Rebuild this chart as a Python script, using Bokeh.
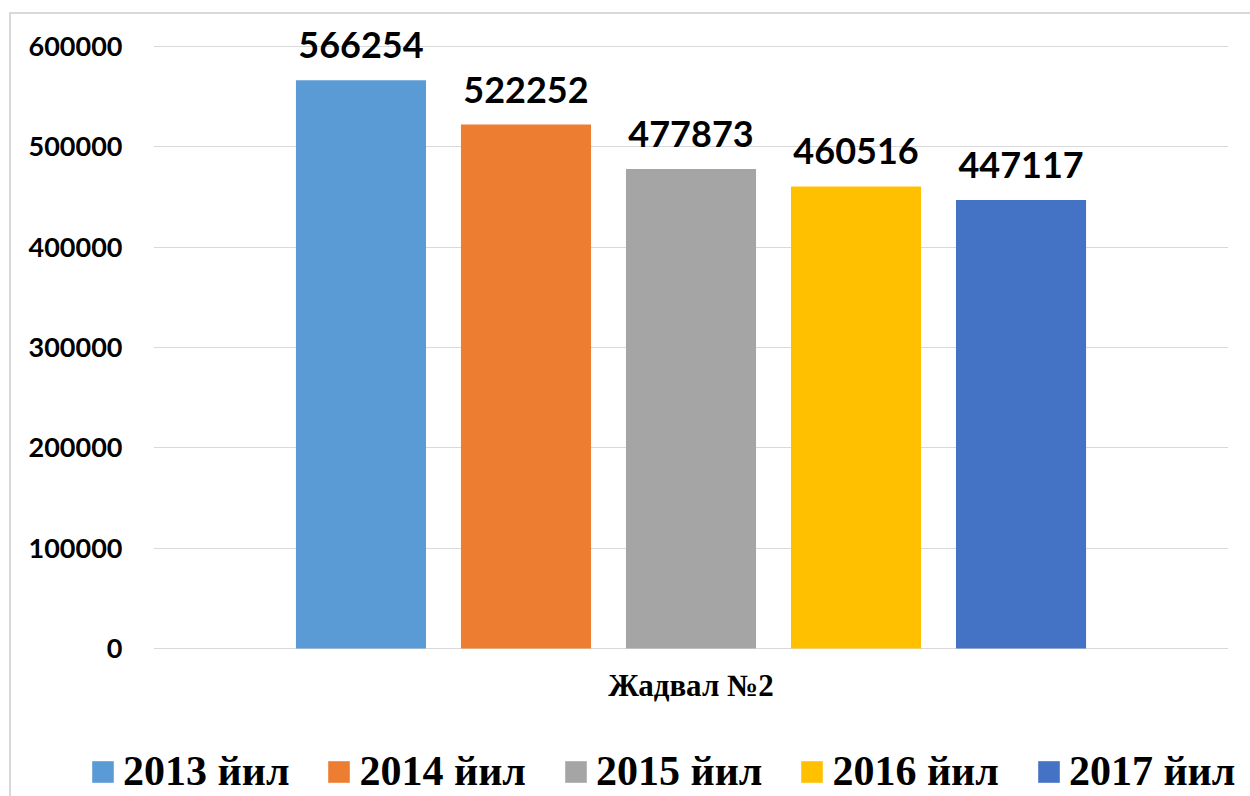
from bokeh.plotting import figure
from bokeh.models import (FactorRange, Range1d, Legend, LegendItem, ColumnDataSource,
                          FixedTicker, BasicTickFormatter)
from bokeh.layouts import column
from bokeh.transform import dodge
from bokeh.core.properties import value
from bokeh.embed import file_html
from bokeh.resources import INLINE

category = ["Жадвал №2"]
years = ["2013 йил", "2014 йил", "2015 йил", "2016 йил", "2017 йил"]
values = [566254, 522252, 477873, 460516, 447117]
colors = ["#5B9BD5", "#ED7D31", "#A5A5A5", "#FFC000", "#4472C4"]
y_ticks = [0, 100000, 200000, 300000, 400000, 500000, 600000]

W, H_MAIN, H_LEG = 1250, 740, 56
frame_top, zero_px, top_px = 16, 648, 46     # pixel layout of the value axis
u = (y_ticks[-1] - y_ticks[0]) / (zero_px - top_px)   # value units per pixel
y_start = -(H_MAIN - zero_px) * u
y_end = y_ticks[-1] + (top_px - frame_top) * u

p = figure(width=W, height=H_MAIN,
           x_range=FactorRange(*category), y_range=Range1d(y_start, y_end),
           output_backend="svg", toolbar_location=None,
           min_border_left=153, min_border_right=22,
           min_border_top=frame_top, min_border_bottom=0)
p.frame_align = False
p.outline_line_color = None
p.background_fill_color = None
p.border_fill_color = None
p.styles = {
    "background": ("linear-gradient(#d9d9d9,#d9d9d9) 9px 12px / 2px 100% no-repeat, "
                   "linear-gradient(#d9d9d9,#d9d9d9) 9px 12px / 100% 2px no-repeat, white"),
}

# legend strip (its own frame spans the full width, so the legend is not clipped)
leg = figure(width=W, height=H_LEG, x_range=FactorRange(*category), y_range=Range1d(0, 1),
             output_backend="svg", toolbar_location=None,
             min_border_left=0, min_border_right=0, min_border_top=0, min_border_bottom=0)
leg.frame_align = False
leg.outline_line_color = None
leg.background_fill_color = None
leg.border_fill_color = None
leg.axis.visible = False
leg.grid.visible = False
leg.styles = {
    "background": "linear-gradient(#d9d9d9,#d9d9d9) 9px 0px / 2px 100% no-repeat, white",
}

step = 0.1535
bar_w = 0.121
items = []
for i, (yr, v, c) in enumerate(zip(years, values, colors)):
    off = (i - 2) * step
    src = ColumnDataSource(dict(cat=[category[0]], val=[v], lab=[str(v)]))
    p.vbar(x=dodge("cat", off, range=p.x_range), top="val", bottom=0, width=bar_w,
           source=src, fill_color=c, line_color=None)
    p.text(x=dodge("cat", off, range=p.x_range), y="val", text="lab", source=src,
           text_align="center", text_baseline="alphabetic", y_offset=-35,
           text_font=value("Lato"), text_font_style="bold", text_font_size="36px",
           text_color="black")
    # legend key renderer for the same series (hidden; only its key is shown)
    r = leg.vbar(x=dodge("cat", off, range=leg.x_range), top="val", bottom=0, width=bar_w,
                 source=src, fill_color=c, line_color=None)
    r.visible = False
    items.append(LegendItem(label=yr, renderers=[r]))

# category axis label
p.text(x=category, y=[0], text=category, text_align="center", text_baseline="middle",
       y_offset=37, text_font=value("Liberation Serif"), text_font_style="bold",
       text_font_size="31px", text_color="black")

p.xaxis.visible = False
p.xgrid.visible = False
p.ygrid.ticker = FixedTicker(ticks=y_ticks)
p.ygrid.grid_line_color = "#d9d9d9"
p.ygrid.grid_line_width = 1

p.yaxis.ticker = FixedTicker(ticks=y_ticks)
p.yaxis.formatter = BasicTickFormatter(use_scientific=False)
p.yaxis.axis_line_color = None
p.yaxis.major_tick_line_color = None
p.yaxis.minor_tick_line_color = None
p.yaxis.major_tick_out = 0
p.yaxis.major_tick_in = 0
p.yaxis.major_label_standoff = 31
p.yaxis.major_label_text_font = "Lato"
p.yaxis.major_label_text_font_style = "bold"
p.yaxis.major_label_text_font_size = "27px"
p.yaxis.major_label_text_color = "black"

legend = Legend(items=items, orientation="horizontal", location=(89, 1),
                label_text_font="Liberation Serif", label_text_font_style="bold",
                label_text_font_size="42px", label_text_color="black",
                glyph_width=27, glyph_height=27, label_standoff=7, spacing=36,
                padding=0, margin=0, border_line_color=None,
                background_fill_alpha=0)
leg.add_layout(legend, "center")

layout = column(p, leg, spacing=0)
open("out.html", "w").write(file_html(layout, INLINE))
